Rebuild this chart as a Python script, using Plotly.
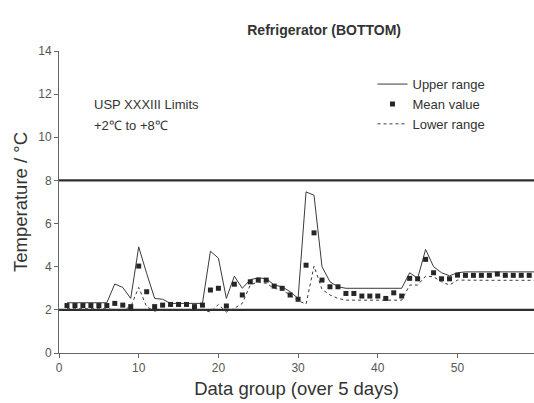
import plotly.graph_objects as go

groups = list(range(1, 61))

upper_range = [2.33, 2.33, 2.33, 2.33, 2.33, 2.33, 3.2, 3.04, 2.53, 4.92,
               3.69, 2.53, 2.49, 2.3, 2.3, 2.3, 2.3, 2.3, 4.72, 4.4,
               2.53, 3.56, 3.0, 3.4, 3.48, 3.45, 3.15, 3.07, 2.84, 2.53,
               7.47, 7.31, 4.0, 3.3, 3.07, 3.0, 3.0, 3.0, 3.0, 3.0,
               3.0, 3.0, 3.0, 3.72, 3.46, 4.8, 4.0, 3.72, 3.58, 3.72,
               3.76, 3.76, 3.76, 3.76, 3.76, 3.76, 3.76, 3.76, 3.76, 3.76]

mean_value = [2.2, 2.2, 2.2, 2.2, 2.2, 2.2, 2.3, 2.22, 2.15, 4.03,
              2.84, 2.15, 2.22, 2.25, 2.25, 2.25, 2.15, 2.22, 2.92, 3.0,
              2.18, 3.19, 2.69, 3.3, 3.38, 3.38, 3.1, 3.0, 2.69, 2.49,
              4.07, 5.57, 3.38, 3.07, 3.07, 2.76, 2.76, 2.64, 2.64, 2.64,
              2.53, 2.79, 2.64, 3.46, 3.44, 4.34, 3.72, 3.44, 3.44, 3.61,
              3.6, 3.6, 3.6, 3.6, 3.66, 3.6, 3.6, 3.6, 3.6, 3.6]

lower_range = [2.05, 2.05, 2.05, 2.05, 2.05, 2.05, 2.0, 2.0, 2.14, 3.04,
               2.14, 1.94, 2.0, 2.0, 2.0, 2.0, 2.0, 2.0, 1.9, 2.25,
               1.9, 2.07, 2.3, 3.15, 3.3, 3.23, 3.0, 2.92, 2.69, 2.42,
               2.27, 4.03, 2.95, 2.69, 2.53, 2.45, 2.45, 2.45, 2.45, 2.45,
               2.45, 2.45, 2.45, 3.15, 3.15, 3.56, 3.53, 3.3, 3.15, 3.38,
               3.37, 3.37, 3.37, 3.37, 3.37, 3.37, 3.37, 3.37, 3.37, 3.37]

usp_limits = [2, 8]
x_ticks = [0, 10, 20, 30, 40, 50, 60]
y_ticks = [0, 2, 4, 6, 8, 10, 12, 14]

FONT = "Liberation Sans, Arial, sans-serif"

fig = go.Figure()
fig.add_trace(go.Scatter(x=groups, y=upper_range, mode="lines", name="Upper range",
                         line=dict(color="#3a3a3a", width=1)))
fig.add_trace(go.Scatter(x=groups, y=mean_value, mode="markers", name="Mean value",
                         marker=dict(symbol="square", size=5, color="#262626")))
fig.add_trace(go.Scatter(x=groups, y=lower_range, mode="lines", name="Lower range",
                         line=dict(color="#3a3a3a", width=1, dash="dot")))

for lim in usp_limits:
    fig.add_shape(type="line", xref="paper", x0=0, x1=1, yref="y", y0=lim, y1=lim,
                  line=dict(color="#2e2e2e", width=2.2), layer="below")

fig.add_annotation(text="USP XXXIII Limits", xref="paper", yref="y", x=0.069, y=11.54,
                   xanchor="left", yanchor="middle", showarrow=False,
                   font=dict(family=FONT, size=13, color="#333"))
fig.add_annotation(text="+2\u2103 to +8\u2103", xref="paper", yref="y", x=0.069, y=10.54,
                   xanchor="left", yanchor="middle", showarrow=False,
                   font=dict(family=FONT, size=13, color="#333"))

fig.update_layout(
    width=534, height=403,
    margin=dict(l=59, r=0, t=51, b=50),
    paper_bgcolor="white", plot_bgcolor="white",
    font=dict(family=FONT, color="#333"),
    title=dict(text="<b>Refrigerator (BOTTOM)</b>", xref="container", x=0.607,
               xanchor="center", yref="container", y=0.926, yanchor="middle",
               font=dict(family=FONT, size=14, color="#333")),
    showlegend=True,
    legend=dict(x=0.66, y=0.94, xanchor="left", yanchor="top",
                bgcolor="rgba(0,0,0,0)", font=dict(family=FONT, size=13, color="#333"),
                itemwidth=30, tracegroupgap=6),
    xaxis=dict(range=[0, 59.6], tickvals=x_ticks, showgrid=False, zeroline=False,
               showline=True, linecolor="#666", linewidth=1,
               ticks="outside", ticklen=4, tickcolor="#666",
               tickfont=dict(family=FONT, size=12, color="#555"),
               title=dict(text="Data group (over 5 days)", standoff=7,
                          font=dict(family=FONT, size=18.5, color="#333"))),
    yaxis=dict(range=[0, 14], tickvals=y_ticks, showgrid=False, zeroline=False,
               showline=True, linecolor="#666", linewidth=1,
               ticks="outside", ticklen=4, tickcolor="#666",
               tickfont=dict(family=FONT, size=12, color="#555"),
               title=dict(text="Temperature / \u00b0C", standoff=5,
                          font=dict(family=FONT, size=18.5, color="#333"))),
)

fig.write_html("out.html", config={"displayModeBar": False},
               post_script="document.body.style.margin='0';")
